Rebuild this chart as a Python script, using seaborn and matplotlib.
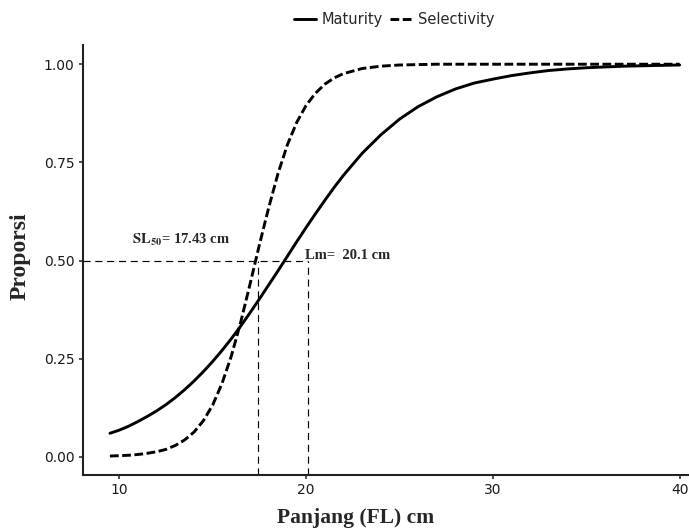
import matplotlib
matplotlib.use("Agg")
import matplotlib.pyplot as plt
import pandas as pd
import seaborn as sns

# Fork length (cm)
panjang = [9.5, 10, 10.5, 11, 11.5, 12, 12.5, 13, 13.5, 14, 14.5, 15, 15.5,
           16, 16.5, 17, 17.5, 18, 18.5, 19, 19.5, 20, 20.5, 21, 21.5, 22,
           23, 24, 25, 26, 27, 28, 29, 30, 31, 32, 33, 34, 35, 36, 37, 38,
           39, 40]

# Proportion mature at length
maturity = [0.060, 0.068, 0.078, 0.090, 0.103, 0.117, 0.133, 0.151, 0.171,
            0.193, 0.217, 0.243, 0.271, 0.301, 0.333, 0.367, 0.402, 0.438,
            0.474, 0.511, 0.548, 0.584, 0.619, 0.653, 0.686, 0.717, 0.773,
            0.820, 0.860, 0.892, 0.917, 0.937, 0.952, 0.962, 0.971, 0.978,
            0.984, 0.988, 0.991, 0.993, 0.995, 0.996, 0.997, 0.998]

# Gear selectivity at length
selectivity = [0.002, 0.003, 0.004, 0.006, 0.009, 0.013, 0.019, 0.029, 0.043,
               0.063, 0.092, 0.132, 0.187, 0.257, 0.343, 0.440, 0.540, 0.635,
               0.722, 0.795, 0.852, 0.895, 0.926, 0.949, 0.965, 0.976, 0.989,
               0.995, 0.998, 0.999, 1.000, 1.000, 1.000, 1.000, 1.000, 1.000,
               1.000, 1.000, 1.000, 1.000, 1.000, 1.000, 1.000, 1.000]

series_names = ["Maturity", "Selectivity"]
sl50 = 17.43
lm = 20.1
y_ticks = [0.00, 0.25, 0.50, 0.75, 1.00]
x_ticks = [10, 20, 30, 40]

df = pd.concat([
    pd.DataFrame({"Panjang": panjang, "Proporsi": maturity, "Kurva": series_names[0]}),
    pd.DataFrame({"Panjang": panjang, "Proporsi": selectivity, "Kurva": series_names[1]}),
])

sns.set_style("ticks")
plt.rcParams["font.family"] = ["DejaVu Sans"]
plt.rcParams["mathtext.fontset"] = "stix"

fig = plt.figure(figsize=(6.89, 5.31), dpi=100)
ax = fig.add_axes([0.120, 0.1064, 0.880, 0.8089])

sns.lineplot(data=df, x="Panjang", y="Proporsi", hue="Kurva", style="Kurva",
             palette={"Maturity": "black", "Selectivity": "black"},
             dashes={"Maturity": "", "Selectivity": (3.0, 1.2)},
             linewidth=2.1, ax=ax)

xmin, xmax = 8.04, 40.5
ymin, ymax = -0.045, 1.049
ax.set_xlim(xmin, xmax)
ax.set_ylim(ymin, ymax)

# 50% reference lines
ref = dict(color="black", lw=0.85, linestyle=(0, (6, 4)))
ax.plot([xmin, lm], [0.5, 0.5], **ref)
ax.plot([sl50, sl50], [ymin, 0.5], **ref)
ax.plot([lm, lm], [ymin, 0.5], **ref)

ax.text(10.68, 0.552, r"$\mathbf{SL}_{\mathbf{50}}$" + "= 17.43 cm",
        family="Liberation Serif", weight="bold", fontsize=10.5,
        ha="left", va="center")
ax.text(19.95, 0.514, "Lm=  20.1 cm", family="Liberation Serif",
        weight="bold", fontsize=10.5, ha="left", va="center")

ax.set_xticks(x_ticks)
ax.set_yticks(y_ticks)
ax.set_yticklabels([f"{v:.2f}" for v in y_ticks])
ax.tick_params(axis="both", labelsize=10, length=3, width=1.2,
               color="#333333", labelcolor="#1a1a1a", pad=3)

for side in ["left", "bottom"]:
    ax.spines[side].set_linewidth(1.5)
    ax.spines[side].set_color("#222222")
sns.despine(ax=ax)

ax.set_xlabel("Panjang (FL) cm", family="Liberation Serif", weight="bold",
              fontsize=15.5)
ax.set_ylabel("Proporsi", family="Liberation Serif", weight="bold",
              fontsize=17)
ax.xaxis.set_label_coords(0.45, -0.078)
ax.yaxis.set_label_coords(-0.086, 0.509)

handles, labels = ax.get_legend_handles_labels()
ax.legend(handles, labels, loc="center", bbox_to_anchor=(0.572, 0.963),
          bbox_transform=fig.transFigure, ncol=2, frameon=False,
          fontsize=10.5, handlelength=1.5, handletextpad=0.4, columnspacing=0.5)

fig.savefig("out.png", dpi=100)
